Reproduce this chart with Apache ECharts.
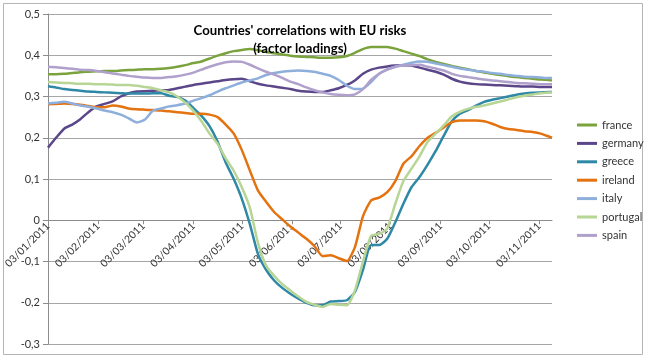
<!DOCTYPE html>
<html>
<head>
<meta charset="utf-8">
<script src="https://cdn.jsdelivr.net/npm/echarts@6/dist/echarts.min.js"></script>
<style>html,body{margin:0;padding:0;background:#fff}#c{width:647px;height:359px}</style>
</head>
<body>
<div id="c"></div>
<script>
// sample dates (every 5 days)
const dates = ['2011-01-03','2011-01-08','2011-01-13','2011-01-18','2011-01-23','2011-01-28','2011-02-02','2011-02-07','2011-02-12','2011-02-17','2011-02-22','2011-02-27','2011-03-04','2011-03-09','2011-03-14','2011-03-19','2011-03-24','2011-03-29','2011-04-03','2011-04-08','2011-04-13','2011-04-18','2011-04-23','2011-04-28','2011-05-03','2011-05-08','2011-05-13','2011-05-18','2011-05-23','2011-05-28','2011-06-02','2011-06-07','2011-06-12','2011-06-17','2011-06-22','2011-06-27','2011-07-02','2011-07-07','2011-07-12','2011-07-17','2011-07-22','2011-07-27','2011-08-01','2011-08-06','2011-08-11','2011-08-16','2011-08-21','2011-08-26','2011-08-31','2011-09-05','2011-09-10','2011-09-15','2011-09-20','2011-09-25','2011-09-30','2011-10-05','2011-10-10','2011-10-15','2011-10-20','2011-10-25','2011-10-30','2011-11-04','2011-11-09','2011-11-11'];

const france = [.354,.354,.355,.357,.359,.360,.361,.362,.362,.363,.364,.365,.366,.366,.367,.369,.372,.376,.381,.385,.392,.399,.405,.410,.413,.415,.412,.408,.405,.402,.399,.397,.396,.395,.394,.394,.395,.398,.406,.415,.420,.420,.420,.416,.410,.404,.398,.390,.384,.379,.374,.370,.366,.362,.358,.355,.352,.349,.347,.345,.343,.341,.340,.339];
const germany = [.176,.200,.222,.232,.245,.262,.276,.282,.288,.300,.308,.312,.313,.314,.315,.316,.320,.324,.328,.331,.334,.337,.340,.342,.343,.337,.331,.327,.324,.321,.318,.314,.312,.311,.311,.315,.320,.328,.339,.355,.365,.370,.373,.375,.376,.375,.370,.365,.360,.353,.343,.336,.332,.330,.329,.328,.327,.326,.325,.324,.324,.323,.323,.323];
const greece = [.325,.322,.318,.316,.314,.312,.311,.310,.309,.308,.307,.307,.307,.308,.308,.302,.299,.290,.272,.253,.228,.190,.140,.100,.052,-.010,-.082,-.120,-.146,-.164,-.178,-.190,-.200,-.206,-.206,-.197,-.196,-.194,-.174,-.120,-.060,-.060,-.045,-.005,.040,.080,.105,.135,.168,.205,.240,.258,.267,.278,.287,.292,.296,.300,.304,.307,.309,.310,.311,.311];
const ireland = [.281,.282,.283,.282,.280,.277,.274,.274,.278,.276,.271,.269,.268,.267,.266,.264,.262,.260,.258,.258,.256,.250,.232,.210,.170,.120,.072,.045,.020,.002,-.015,-.030,-.045,-.063,-.087,-.085,-.092,-.099,-.065,.010,.048,.055,.068,.095,.137,.155,.180,.200,.212,.225,.238,.242,.242,.242,.240,.234,.226,.221,.219,.216,.214,.210,.203,.200];
const italy = [.283,.285,.287,.283,.278,.275,.271,.266,.262,.256,.247,.237,.244,.266,.271,.276,.279,.283,.290,.296,.303,.312,.320,.327,.334,.339,.344,.352,.357,.360,.362,.363,.362,.360,.355,.350,.340,.326,.318,.319,.335,.355,.366,.372,.377,.382,.385,.384,.380,.376,.372,.368,.365,.362,.360,.357,.355,.352,.350,.348,.347,.346,.345,.345];
const portugal = [.335,.334,.333,.332,.331,.331,.330,.330,.329,.328,.328,.326,.323,.320,.315,.310,.300,.285,.265,.240,.210,.185,.150,.120,.080,.030,-.055,-.110,-.135,-.155,-.170,-.185,-.198,-.205,-.210,-.203,-.205,-.206,-.170,-.100,-.038,-.033,-.020,.040,.095,.125,.155,.190,.210,.230,.252,.263,.270,.275,.278,.283,.288,.293,.298,.302,.305,.308,.310,.310];
const spain = [.372,.371,.369,.367,.365,.364,.362,.359,.356,.353,.350,.348,.346,.345,.345,.347,.349,.353,.358,.365,.372,.378,.383,.385,.384,.377,.368,.360,.353,.345,.336,.330,.322,.315,.310,.306,.304,.303,.305,.318,.340,.355,.365,.372,.375,.376,.377,.372,.368,.363,.355,.350,.347,.344,.341,.339,.337,.335,.333,.332,.331,.330,.330,.330];

const seriesNames = ['france','germany','greece','ireland','italy','portugal','spain'];
const seriesValues = [france, germany, greece, ireland, italy, portugal, spain];
const colors = ['#7aa33e','#5b4689','#2f88a6','#e4720f','#8eaedb','#b7d594','#b0a0cc'];
const tickDates = ['2011-01-03','2011-02-03','2011-03-03','2011-04-03','2011-05-03','2011-06-03','2011-07-03','2011-08-03','2011-09-03','2011-10-03','2011-11-03'];
const yMin = -0.3, yMax = 0.5, yStep = 0.1;

function ts(s){ const p = s.split('-'); return Date.UTC(+p[0], +p[1]-1, +p[2]); }
function fmtDate(v){ const d = new Date(v); const dd = String(d.getUTCDate()).padStart(2,'0'); const mm = String(d.getUTCMonth()+1).padStart(2,'0'); return dd+'/'+mm+'/'+d.getUTCFullYear(); }

const GRID_TOP = 14, GRID_BOTTOM = 15, H = 359;
const plotH = H - GRID_TOP - GRID_BOTTOM;
// shift the date axis up from the plot bottom to the zero line
const zeroShift = plotH * (0 - yMin) / (yMax - yMin);

const chart = echarts.init(document.getElementById('c'), null, {renderer:'canvas'});
const FONT = 'Lato';
chart.setOption({
  animation: false,
  backgroundColor: '#fff',
  title: {
    text: "Countries' correlations with EU risks\n(factor loadings)",
    left: 295, top: 17, textAlign: 'center',
    textStyle: {fontFamily: FONT, fontSize: 13.2, fontWeight: 'bold', color: '#000', lineHeight: 18}
  },
  legend: {
    orient: 'vertical', left: 572, top: 113,
    data: seriesNames, icon: 'rect', itemWidth: 20, itemHeight: 3, itemGap: 4.4,
    textStyle: {fontFamily: FONT, fontSize: 11, color: '#333', lineHeight: 14}
  },
  grid: {left: 48, right: 95, top: GRID_TOP, bottom: GRID_BOTTOM, containLabel: false, outerBoundsMode: 'none'},
  xAxis: {
    type: 'value', min: ts('2011-01-03'), max: ts('2011-11-11'),
    offset: -zeroShift,
    axisLine: {onZero: false, lineStyle: {color: '#8c8c8c', width: 1}},
    axisTick: {show: true, length: 4, customValues: tickDates.map(ts), lineStyle: {color: '#8c8c8c'}},
    axisLabel: {customValues: tickDates.map(ts), rotate: 45, margin: 4, formatter: fmtDate,
      fontFamily: FONT, fontSize: 10.5, color: '#333'},
    splitLine: {show: false}
  },
  yAxis: {
    type: 'value', min: yMin, max: yMax, interval: yStep,
    axisLine: {show: true, lineStyle: {color: '#8c8c8c'}},
    axisTick: {show: true, length: 5, lineStyle: {color: '#8c8c8c'}},
    axisLabel: {margin: 8, fontFamily: FONT, fontSize: 11, color: '#333',
      formatter: v => Math.abs(v) < 1e-9 ? '0' : (Math.round(v*10)/10).toFixed(1).replace('.', ',')},
    splitLine: {show: true, lineStyle: {color: '#a6a6a6', width: 1}}
  },
  graphic: [{type: 'rect', shape: {x: 3.5, y: 3.5, width: 639, height: 351}, style: {fill: 'none', stroke: '#b5b5b5', lineWidth: 1}, z: -10}],
  series: seriesNames.map((n, i) => ({
    name: n, type: 'line', showSymbol: false, smooth: 0.2,
    color: colors[i],
    lineStyle: {width: 2.5, color: colors[i]},
    data: dates.map((d, j) => [ts(d), seriesValues[i][j]])
  }))
});
</script>
</body>
</html>
